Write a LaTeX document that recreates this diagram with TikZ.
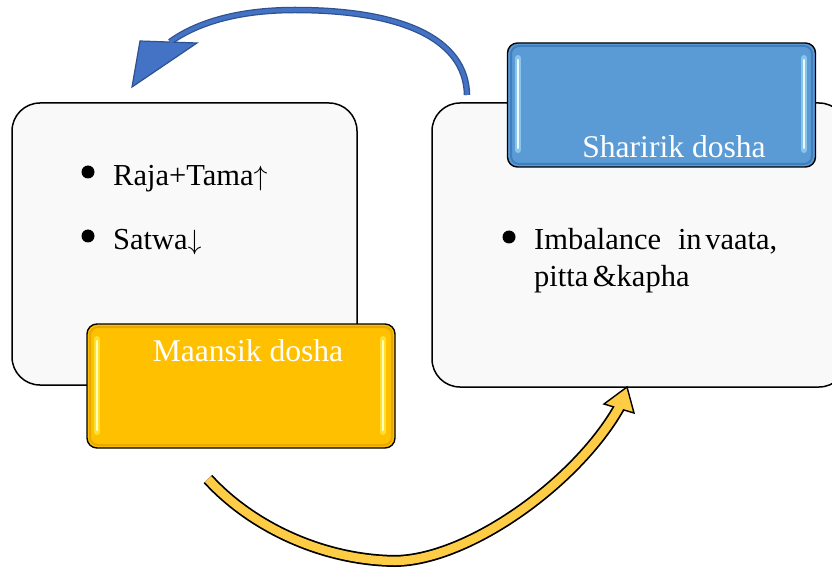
\documentclass[tikz,border=0pt]{standalone}
\usepackage{graphicx}
\usepackage{fontspec}
\setmainfont{Liberation Serif}
\newcommand{\uparr}{\scalebox{1.12}{$\uparrow$}}
\newcommand{\downarr}{\scalebox{1.12}{$\downarrow$}}
\begin{document}
\begin{tikzpicture}[x=1pt,y=-1pt,
  panel/.style={draw=black,line width=1.5pt,fill=black!2.5,rounded corners=28pt,inner sep=0pt},
  tag/.style={draw=black,line width=1.4pt,rounded corners=10pt,inner sep=0pt,minimum width=308pt,minimum height=124pt},
  glow/.style={line width=6pt,line cap=round,opacity=0.6},
  shine/.style={line width=2.2pt,line cap=round},
  bodytext/.style={font=\fontsize{30.5}{36}\selectfont,inner sep=0pt,anchor=base west},
  tagtext/.style={font=\fontsize{31.6}{38}\selectfont,text=white,inner sep=0pt,anchor=base},
  dot/.style={circle,fill=black,inner sep=0pt,minimum size=13pt}]
\definecolor{tagblue}{HTML}{5B9BD5}
\definecolor{tagblueedge}{HTML}{3F7FBF}
\definecolor{tagyellow}{HTML}{FFC000}
\definecolor{tagyellowedge}{HTML}{E8A800}
\definecolor{arrowblue}{HTML}{4472C4}
\definecolor{arrowblueedge}{HTML}{2F528F}
\definecolor{arrowyellow}{HTML}{FFCD45}
\useasboundingbox (0,0) rectangle (832,569);

% large panels
\node[panel,minimum width=345pt,minimum height=282pt] (leftbox) at (184.5,244) {};
\node[panel,minimum width=415pt,minimum height=284pt] (rightbox) at (639.5,245) {};

% coloured tags with a darker rim and glossy edge strips
\node[tag,fill=tagyellow] (maansik) at (241,386) {};
\draw[draw=tagyellowedge,line width=2pt,rounded corners=8pt] (90,327) rectangle (392,445);
\draw[glow,draw=yellow!70] (97,339) -- (97,432);
\draw[glow,draw=yellow!70] (383,339) -- (383,432);
\draw[shine,draw=yellow!25] (97,341) -- (97,430);
\draw[shine,draw=yellow!25] (383,341) -- (383,430);

\node[tag,fill=tagblue] (sharirik) at (661.5,105) {};
\draw[draw=tagblueedge,line width=2pt,rounded corners=8pt] (511,46) rectangle (812,164);
\draw[glow,draw=cyan!35] (518,58) -- (518,150);
\draw[glow,draw=cyan!35] (804,58) -- (804,150);
\draw[shine,draw=cyan!8] (518,60) -- (518,148);
\draw[shine,draw=cyan!8] (804,60) -- (804,148);

\node[tagtext] (maansiklabel) at (248,361) {Maansik dosha};
\node[tagtext] (shaririklabel) at (674,158) {Sharirik dosha};

% bullet lists
\node[dot] (b1) at (88,172) {};
\node[bodytext] (t1) at (113,186) {Raja+Tama\uparr};
\node[dot] (b2) at (88,236) {};
\node[bodytext] (t2) at (113,250) {Satwa\downarr};
\node[dot] (b3) at (509,237) {};
\node[bodytext] (t3) at (534,250) {Imbalance\hspace{0.55em}in\hspace{0.12em}vaata,};
\node[bodytext] (t4) at (534,287) {pitta \hspace{-0.1em}\&kapha};

% arrow end points
\coordinate (blueTail) at (467,95);
\coordinate (blueTop) at (295,10);
\coordinate (blueEnd) at (170,42);
\coordinate (yelTail) at (208,479);
\coordinate (yelBottom) at (395,561);
\coordinate (yelEnd) at (621,404);

% blue arrow: rightbox back to leftbox
\draw[draw=arrowblueedge,line width=6.5pt] (blueTail) .. controls (466,38) and (400,10) .. (blueTop) .. controls (235,10) and (195,24) .. (blueEnd);
\draw[fill=arrowblue,draw=arrowblueedge,line width=1.2pt,line join=miter] (140,41) -- (197,43) -- (132,87) -- cycle;
\draw[draw=arrowblue,line width=4pt] (blueTail) .. controls (466,38) and (400,10) .. (blueTop) .. controls (235,10) and (195,24) .. (blueEnd);

% yellow arrow: leftbox on to rightbox
\draw[draw=black,line width=12pt] (yelTail) .. controls (250,525) and (320,560) .. (yelBottom) .. controls (470,560) and (580,480) .. (yelEnd);
\draw[fill=arrowyellow,draw=black,line width=1.4pt,line join=miter] (604,404) -- (627,387) -- (634,413) -- cycle;
\draw[draw=arrowyellow,line width=8.5pt] (yelTail) .. controls (250,525) and (320,560) .. (yelBottom) .. controls (470,560) and (580,480) .. (yelEnd);
\end{tikzpicture}
\end{document}
